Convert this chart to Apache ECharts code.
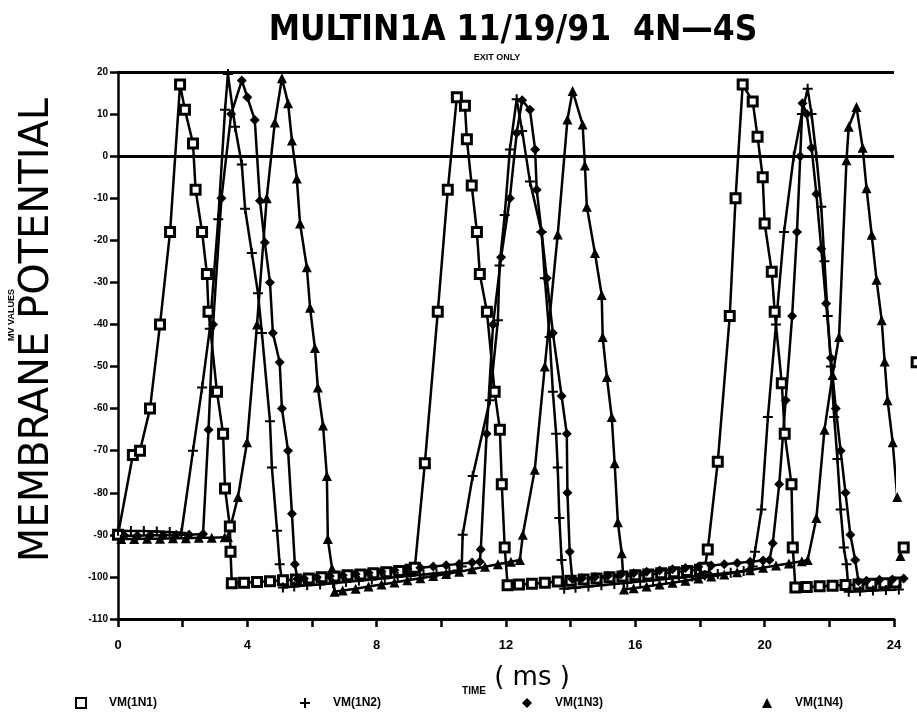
<!DOCTYPE html>
<html>
<head>
<meta charset="utf-8">
<script src="https://cdn.jsdelivr.net/npm/echarts@6/dist/echarts.min.js"></script>
<style>
  html, body { margin: 0; padding: 0; background: #fff; }
  #chart { width: 917px; height: 725px; }
</style>
</head>
<body>
<div id="chart"></div>
<script>
// Membrane potential traces (time in ms, potential in mV) for the four nodes.
const seriesNames = ['VM(1N1)', 'VM(1N2)', 'VM(1N3)', 'VM(1N4)'];

const vm1 = [
  [0,-90],[0.46,-71],[0.68,-70],[0.99,-60],[1.3,-40],[1.61,-18],[1.92,17],[2.07,11],[2.32,3],[2.4,-8],
  [2.6,-18],[2.75,-28],[2.8,-37],[3.06,-56],[3.25,-66],[3.31,-79],[3.46,-88],[3.48,-94],[3.52,-101.5],
  [3.9,-101.4],[4.3,-101.2],[4.7,-101],[5.1,-100.8],[5.5,-100.6],[5.9,-100.4],[6.3,-100.1],[6.7,-99.9],
  [7.1,-99.6],[7.5,-99.4],[7.9,-99.1],[8.3,-98.9],[8.7,-98.6],[9.05,-98.3],
  [9.18,-97.8],[9.49,-73],[9.89,-37],[10.2,-8],[10.48,14],[10.73,12],[10.79,4],[10.94,-7],[11.1,-18],
  [11.19,-28],[11.41,-37],[11.65,-56],[11.81,-65],[11.87,-78],[11.96,-93],[12.05,-102],
  [12.4,-101.8],[12.8,-101.6],[13.2,-101.4],[13.6,-101.1],[14,-100.9],[14.4,-100.6],[14.8,-100.4],
  [15.2,-100.1],[15.6,-99.9],[16,-99.6],[16.4,-99.4],[16.8,-99.1],[17.2,-98.9],[17.6,-98.6],[18,-98.3],
  [18.15,-97.8],[18.24,-93.5],[18.55,-72.6],[18.92,-38],[19.1,-10],[19.32,17],[19.63,13],[19.78,4.6],
  [19.94,-5],[20,-16],[20.22,-27.5],[20.31,-37],[20.53,-54],[20.62,-66],[20.83,-78],[20.87,-93],[20.95,-102.5],
  [21.3,-102.4],[21.7,-102.2],[22.1,-102.1],[22.5,-101.9],[22.9,-101.8],[23.3,-101.6],[23.7,-101.5],
  [24.05,-101.3],[24.3,-93],[24.7,-49]
];

const vm2 = [
  [0,-89],[0.4,-89.1],[0.8,-89.1],[1.2,-89.2],[1.6,-89.3],[1.96,-89.5],
  [2.32,-70],[2.6,-55],[2.84,-41],[3.1,-15],[3.31,11],[3.4,19.5],[3.62,7],[3.83,-2],[3.93,-12.5],
  [4.14,-23],[4.33,-32.6],[4.45,-42],[4.7,-63],[4.76,-74],[4.92,-89],[5,-97],[5.1,-102.5],
  [5.45,-102.3],[5.85,-102],[6.25,-101.8],[6.65,-101.5],[7.05,-101.2],[7.45,-100.9],[7.85,-100.6],
  [8.25,-100.3],[8.65,-100],[9.05,-99.7],[9.45,-99.4],[9.85,-99.1],[10.25,-98.8],[10.5,-98.5],
  [10.63,-97.5],[10.66,-90],[10.97,-76],[11.5,-58],[11.75,-39],[11.8,-26],[11.96,-14],[12.12,1.6],
  [12.33,13.5],[12.5,6],[12.74,-6],[13.1,-18],[13.2,-29],[13.35,-43],[13.45,-56],[13.55,-66],
  [13.6,-74],[13.65,-86],[13.72,-96],[13.8,-102.8],
  [14.15,-102.6],[14.55,-102.3],[14.95,-102],[15.35,-101.7],[15.75,-101.4],[16.15,-101.1],[16.55,-100.8],
  [16.95,-100.5],[17.35,-100.2],[17.75,-99.9],[18.15,-99.6],[18.55,-99.3],[18.95,-99],[19.35,-98.6],
  [19.63,-97.5],[19.7,-94],[19.9,-84],[20.1,-62],[20.35,-40],[20.6,-18],[20.9,0],[21.15,10],[21.33,16],
  [21.45,10],[21.6,0],[21.75,-12],[21.85,-25],[21.95,-38],[22.05,-50],[22.15,-62],[22.25,-72],
  [22.35,-84],[22.45,-93],[22.53,-97],[22.6,-103.5],
  [22.95,-103.4],[23.35,-103.2],[23.75,-103.1],[24.15,-103]
];

const vm3 = [
  [0.2,-90.2],[0.6,-90.2],[1,-90.1],[1.4,-90.1],[1.8,-90],[2.2,-90],[2.63,-89.8],
  [2.8,-65],[2.94,-40],[3.2,-10],[3.5,10],[3.83,18],[4,14],[4.23,8.6],[4.39,-10.6],[4.54,-20.5],
  [4.7,-30],[4.79,-42],[5,-49],[5.07,-60],[5.26,-70],[5.38,-85],[5.47,-97],[5.55,-100.5],
  [5.75,-100.4],[6.15,-100.1],[6.55,-99.8],[6.95,-99.6],[7.35,-99.3],[7.75,-99],[8.15,-98.7],
  [8.55,-98.4],[8.95,-98.1],[9.35,-97.8],[9.75,-97.5],[10.15,-97.2],[10.55,-96.9],[10.95,-96.6],
  [11.19,-96.4],[11.22,-93.5],[11.4,-66],[11.6,-40],[11.85,-24],[12.12,-10],[12.33,5.5],[12.5,13.3],
  [12.74,11],[12.9,1.6],[12.95,-8],[13.1,-18],[13.26,-29],[13.45,-42],[13.72,-57],[13.88,-66],
  [13.9,-80],[13.97,-94],[14.05,-100.5],
  [14.35,-100.3],[14.75,-100],[15.15,-99.7],[15.55,-99.4],[15.95,-99.1],[16.35,-98.8],[16.75,-98.5],
  [17.15,-98.2],[17.55,-97.9],[17.95,-97.6],[18.35,-97.3],[18.75,-97],[19.15,-96.7],[19.55,-96.4],
  [19.95,-96.1],
  [20.15,-96],[20.25,-92],[20.45,-78],[20.65,-58],[20.85,-38],[21,-18],[21.1,0],[21.17,12.6],
  [21.3,10],[21.45,2],[21.6,-9],[21.75,-22],[21.9,-35],[22.05,-48],[22.2,-60],[22.35,-70],
  [22.5,-80],[22.65,-90],[22.8,-96],[22.9,-101],
  [23.15,-100.9],[23.55,-100.7],[23.95,-100.6],[24.3,-100.4]
];

const vm4 = [
  [0.1,-91],[0.5,-91],[0.9,-90.9],[1.3,-90.9],[1.7,-90.8],[2.1,-90.8],[2.5,-90.7],[2.9,-90.7],[3.3,-90.6],
  [3.4,-90.5],
  [3.71,-81],[3.99,-68],[4.3,-40],[4.6,-10],[4.85,8],[5.07,18.5],[5.26,12.6],[5.38,3.7],[5.53,-5.3],
  [5.63,-16],[5.84,-26.4],[5.94,-36],[6.09,-45.6],[6.18,-55],[6.34,-64],[6.46,-76],[6.49,-91],
  [6.62,-98],[6.7,-103.5],
  [6.95,-103.2],[7.35,-102.8],[7.75,-102.3],[8.15,-101.8],[8.55,-101.3],[8.95,-100.8],[9.35,-100.3],
  [9.75,-99.8],[10.15,-99.3],[10.55,-98.8],[10.95,-98.2],[11.35,-97.6],[11.75,-97],[12.15,-96.4],
  [12.43,-96],[12.52,-90],[12.89,-74.5],[13.2,-50],[13.6,-18.6],[13.9,8.7],[14.06,15.5],[14.37,7.5],
  [14.44,-2.2],[14.5,-12],[14.75,-23],[14.96,-33],[14.99,-43],[15.12,-52.5],[15.27,-62],[15.36,-73],
  [15.46,-87],[15.58,-94.4],[15.65,-103],
  [15.95,-102.7],[16.35,-102.3],[16.75,-101.8],[17.15,-101.4],[17.55,-100.9],[17.95,-100.4],[18.35,-99.9],
  [18.75,-99.4],[19.15,-98.9],[19.55,-98.4],[19.95,-97.8],[20.35,-97.3],[20.75,-96.8],[21.15,-96.3],
  [21.33,-96],[21.6,-86],[21.85,-65],[22.1,-52],[22.3,-43],[22.53,-1],[22.6,7],[22.84,11.7],[23.03,2],
  [23.15,-7.6],[23.31,-18.7],[23.46,-29.4],[23.62,-39],[23.71,-48.8],[23.8,-58],[23.96,-68],[24.1,-81],
  [24.2,-95]
];

// Axis ranges and reference levels
const xTicks = { min: 0, max: 24, step: 2, labelStep: 4 };
const yTicks = { min: -110, max: 20, step: 10 };
const referenceLevels = [0, 20];

const plusPath = 'path://M4,0 H6 V4 H10 V6 H6 V10 H4 V6 H0 V4 H4 Z';
const markerShapes = ['rect', plusPath, 'diamond', 'triangle'];
const markerSizes = [9, 10, 10, 10];
const traces = [vm1, vm2, vm3, vm4];

const ink = '#000';
const labelFont = '"Liberation Sans", Arial, sans-serif';

const series = traces.map((d, i) => {
  const hollow = i === 0;
  const s = {
    name: seriesNames[i],
    type: 'line',
    data: d,
    clip: false,
    symbol: markerShapes[i],
    symbolSize: markerSizes[i],
    showAllSymbol: true,
    lineStyle: { color: ink, width: 2.5 },
    itemStyle: hollow
      ? { color: '#fff', borderColor: ink, borderWidth: 3 }
      : { color: ink, borderColor: ink, borderWidth: 0 },
    emphasis: { disabled: true },
    z: 3
  };
  if (i === 0) {
    s.markLine = {
      silent: true,
      symbol: 'none',
      label: { show: false },
      lineStyle: { color: ink, width: 3, type: 'solid' },
      data: referenceLevels.map(v => ({ yAxis: v }))
    };
  }
  return s;
});

const legendSpots = [
  { left: 70, icon: 'rect' },
  { left: 295, icon: plusPath },
  { left: 517, icon: 'diamond' },
  { left: 757, icon: 'triangle' }
];

const chart = echarts.init(document.getElementById('chart'), null, { renderer: 'canvas' });
chart.setOption({
  animation: false,
  backgroundColor: '#fff',
  grid: { left: 118, right: 23, top: 72, bottom: 106 },
  xAxis: {
    type: 'value',
    min: xTicks.min,
    max: xTicks.max,
    interval: xTicks.step,
    axisLine: { show: true, onZero: false, lineStyle: { color: ink, width: 3 } },
    axisTick: { show: true, length: 8, lineStyle: { color: ink, width: 2.5 } },
    splitLine: { show: false },
    axisLabel: {
      margin: 20,
      color: ink,
      fontFamily: labelFont,
      fontWeight: 'bold',
      fontSize: 13,
      formatter: v => (v % xTicks.labelStep === 0 ? String(v) : '')
    }
  },
  yAxis: {
    type: 'value',
    min: yTicks.min,
    max: yTicks.max,
    interval: yTicks.step,
    axisLine: { show: true, onZero: false, lineStyle: { color: ink, width: 2.5 } },
    axisTick: { show: true, length: 8, lineStyle: { color: ink, width: 2.5 } },
    splitLine: { show: false },
    axisLabel: {
      margin: 10,
      color: ink,
      fontFamily: labelFont,
      fontWeight: 'bold',
      fontSize: 10
    }
  },
  legend: legendSpots.map((spot, i) => ({
    data: [{ name: seriesNames[i], icon: spot.icon }],
    left: spot.left,
    top: 692,
    itemWidth: 10,
    itemHeight: 10,
    selectedMode: false,
    textStyle: {
      color: ink,
      fontFamily: labelFont,
      fontWeight: 'bold',
      fontSize: 12,
      padding: [0, 0, 0, 18]
    }
  })),
  graphic: [
    {
      type: 'text', x: 513, y: 31,
      style: {
        text: 'MULTIN1A 11/19/91  4N\u20144S',
        font: 'bold 35px "DejaVu Sans Condensed", "Liberation Sans Narrow", "DejaVu Sans", sans-serif',
        fill: ink, textAlign: 'center', textVerticalAlign: 'middle'
      }
    },
    {
      type: 'text', x: 497, y: 58,
      style: {
        text: 'EXIT ONLY',
        font: 'bold 9px ' + labelFont,
        fill: ink, textAlign: 'center', textVerticalAlign: 'middle'
      }
    },
    {
      type: 'text', x: 38, y: 330, rotation: Math.PI / 2,
      style: {
        text: 'MEMBRANE POTENTIAL',
        font: '40px "DejaVu Sans", sans-serif',
        fill: ink, textAlign: 'center', textVerticalAlign: 'middle'
      }
    },
    {
      type: 'text', x: 12, y: 315, rotation: Math.PI / 2,
      style: {
        text: 'MV VALUES',
        font: 'bold 9px ' + labelFont,
        fill: ink, textAlign: 'center', textVerticalAlign: 'middle'
      }
    },
    {
      type: 'text', x: 474, y: 691,
      style: {
        text: 'TIME',
        font: 'bold 10px ' + labelFont,
        fill: ink, textAlign: 'center', textVerticalAlign: 'middle'
      }
    },
    {
      type: 'text', x: 532, y: 678,
      style: {
        text: '( ms )',
        font: '26px "DejaVu Sans", sans-serif',
        fill: ink, textAlign: 'center', textVerticalAlign: 'middle'
      }
    }
  ],
  series: series
});
</script>
</body>
</html>
